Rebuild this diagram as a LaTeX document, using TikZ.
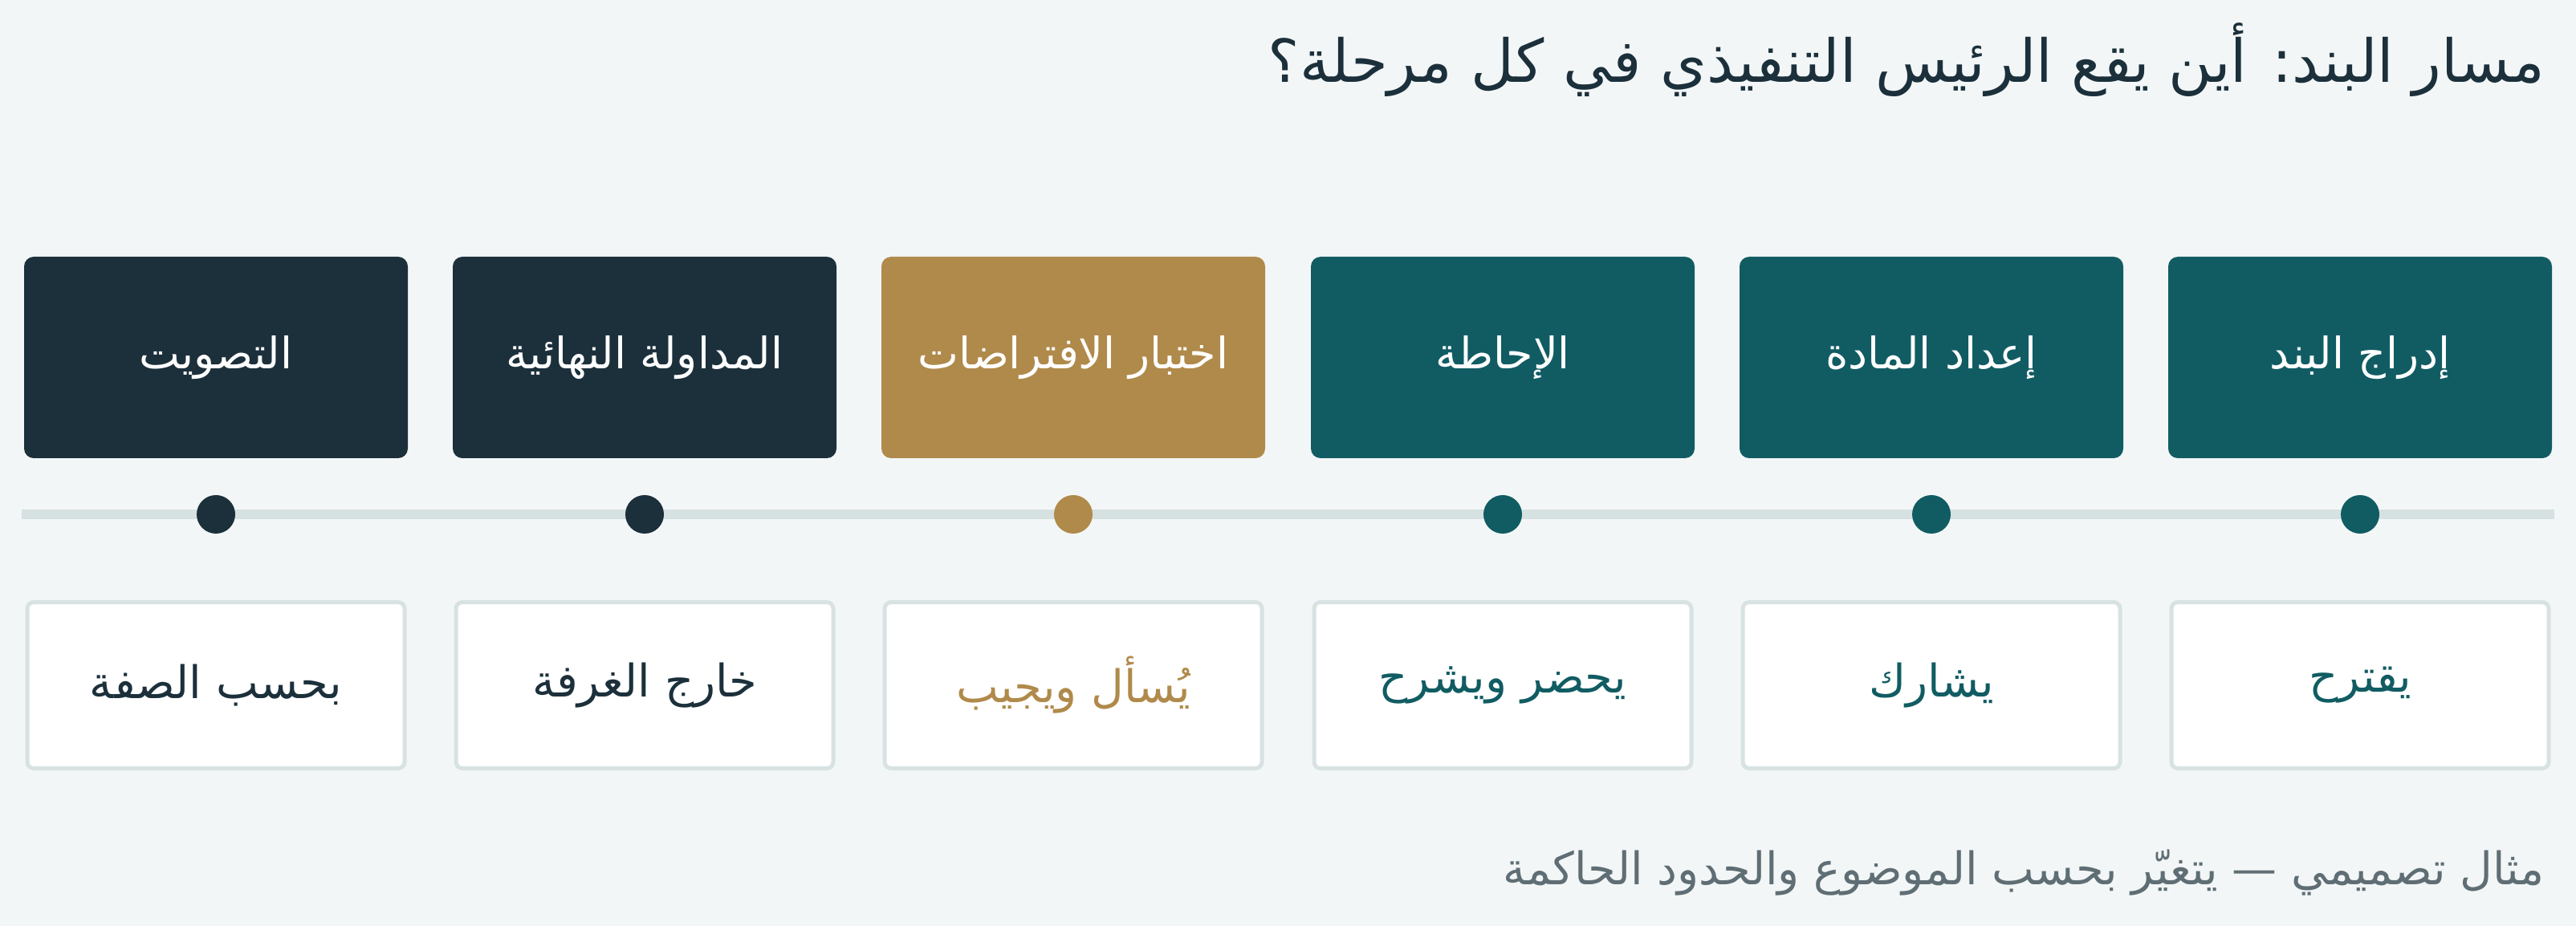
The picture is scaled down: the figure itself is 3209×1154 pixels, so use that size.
\documentclass[tikz,border=0pt]{standalone}
\usepackage{fontspec}
\TeXXeTstate=1
\newfontfamily\arabicfont[Script=Arabic]{DejaVu Sans}
\definecolor{pageBg}{HTML}{F3F6F7}
\definecolor{stageTeal}{HTML}{115C63}
\definecolor{stageGold}{HTML}{B08A4B}
\definecolor{stageDark}{HTML}{1B303B}
\definecolor{trackGray}{HTML}{D6E1E1}
\definecolor{frameGray}{HTML}{D8E2E2}
\definecolor{noteGray}{HTML}{5F6E74}

\begin{document}
\begin{tikzpicture}[x=0.5pt,y=-0.5pt]
		\tikzstyle{Stage} = [rectangle, rounded corners=6pt, minimum width=239pt, minimum height=125.5pt, text centered, text=white, font=\arabicfont\fontsize{27}{32}\selectfont]
		\tikzstyle{Role} = [rectangle, rounded corners=4pt, minimum width=235pt, minimum height=103.5pt, text centered, draw=frameGray, line width=2.5pt, fill=white, font=\arabicfont\fontsize{28}{33}\selectfont]
		\tikzstyle{Dot} = [circle, minimum size=24pt, inner sep=0pt]
		\tikzstyle{track} = [line width=6pt, trackGray]
		
		\fill [pageBg] (0,0) rectangle (3209,1154);
		\useasboundingbox (0,0) rectangle (3209,1154);
		
		\node (title) [anchor=base east, inner sep=0pt, text=stageDark, font=\arabicfont\fontsize{37}{44}\selectfont] at (3170,103) {\beginR مسار البند: أين يقع الرئيس التنفيذي في كل مرحلة؟\endR};
		
		\node (insert) [Stage, fill=stageTeal] at (2940,445.5) {\beginR إدراج البند\endR};
		\node (prep) [Stage, fill=stageTeal] at (2406,445.5) {\beginR إعداد المادة\endR};
		\node (brief) [Stage, fill=stageTeal] at (1872,445.5) {\beginR الإحاطة\endR};
		\node (probe) [Stage, fill=stageGold] at (1337,445.5) {\beginR اختبار الافتراضات\endR};
		\node (deliberate) [Stage, fill=stageDark] at (803,445.5) {\beginR المداولة النهائية\endR};
		\node (vote) [Stage, fill=stageDark] at (269,445.5) {\beginR التصويت\endR};
		
		\coordinate (trackL) at (27,641);
		\coordinate (trackR) at (3182,641);
		\draw [track] (trackL) -- (trackR);
		\node (insertDot) [Dot, fill=stageTeal] at (2940,641) {};
		\node (prepDot) [Dot, fill=stageTeal] at (2406,641) {};
		\node (briefDot) [Dot, fill=stageTeal] at (1872,641) {};
		\node (probeDot) [Dot, fill=stageGold] at (1337,641) {};
		\node (deliberateDot) [Dot, fill=stageDark] at (803,641) {};
		\node (voteDot) [Dot, fill=stageDark] at (269,641) {};
		
		\node (insertRole) [Role, text=stageTeal] at (2940,854) {\beginR يقترح\endR};
		\node (prepRole) [Role, text=stageTeal] at (2406,854) {\beginR يشارك\endR};
		\node (briefRole) [Role, text=stageTeal] at (1872,854) {\beginR يحضر ويشرح\endR};
		\node (probeRole) [Role, text=stageGold] at (1337,854) {\beginR يُسأل ويجيب\endR};
		\node (deliberateRole) [Role, text=stageDark] at (803,854) {\beginR خارج الغرفة\endR};
		\node (voteRole) [Role, text=stageDark] at (269,854) {\beginR بحسب الصفة\endR};
		
		\node (note) [anchor=base east, inner sep=0pt, text=noteGray, font=\arabicfont\fontsize{28}{33}\selectfont] at (3170,1102) {\beginR مثال تصميمي — يتغيّر بحسب الموضوع والحدود الحاكمة\endR};
\end{tikzpicture}
\end{document}
